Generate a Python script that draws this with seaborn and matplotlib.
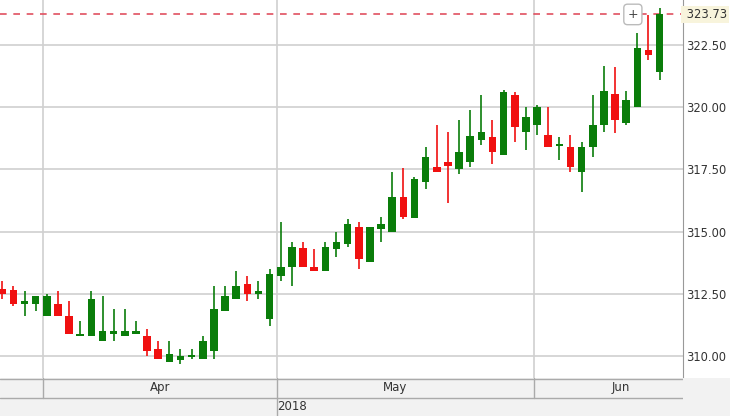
import matplotlib
matplotlib.use("Agg")
import matplotlib.pyplot as plt
import seaborn as sns
import numpy as np
import pandas as pd

opens = [312.7,312.65,312.1,312.1,311.6,312.1,311.6,310.8,310.8,310.6,310.9,310.8,310.9,310.8,310.3,309.75,309.85,309.95,309.9,310.2,
         311.8,312.3,312.9,312.5,311.5,313.2,313.6,314.35,313.6,313.4,314.3,314.5,315.2,313.8,315.1,315.0,316.4,315.55,317.0,317.6,
         317.8,317.5,317.8,318.7,318.8,318.1,320.5,319.0,319.3,318.9,318.45,318.4,317.4,318.4,319.3,320.55,319.35,320.0,322.3,321.4]
highs = [313.0,312.8,312.6,312.4,312.5,312.6,312.2,311.4,312.6,312.4,311.9,311.9,311.4,311.1,310.6,310.6,310.3,310.3,310.8,312.8,
         312.8,313.4,313.2,313.0,313.5,315.4,314.6,314.6,314.3,314.6,315.0,315.5,315.4,315.2,315.6,317.4,317.55,317.2,318.4,319.3,
         319.0,319.5,319.9,320.5,319.5,320.7,320.6,320.0,320.1,320.0,318.8,318.9,318.6,320.5,321.65,321.6,320.65,323.0,323.7,324.0]
lows = [312.3,312.0,311.6,311.8,311.6,311.6,310.9,310.8,310.8,310.6,310.6,310.8,310.9,310.0,309.9,309.75,309.7,309.9,309.9,309.9,
        311.8,312.3,312.2,312.3,311.2,313.0,312.8,313.6,313.4,313.4,314.0,314.4,313.5,313.8,314.6,315.0,315.5,315.55,316.7,317.4,
        316.15,317.3,317.6,318.5,317.7,318.1,318.6,318.3,318.9,318.4,317.9,317.4,316.6,318.0,319.0,318.95,319.3,320.0,321.9,321.1]
closes = [312.5,312.1,312.2,312.4,312.4,311.6,310.9,310.9,312.3,311.0,311.0,311.0,311.0,310.2,309.9,310.1,310.0,310.05,310.6,311.9,
          312.4,312.8,312.5,312.6,313.3,313.6,314.4,313.6,313.4,314.4,314.6,315.3,313.9,315.2,315.3,316.4,315.6,317.1,318.0,317.4,
          317.65,318.2,318.85,319.0,318.2,320.6,319.2,319.6,320.0,318.4,318.5,317.6,318.4,319.3,320.65,319.5,320.3,322.4,322.1,323.73]
last_price = 323.73
y_ticks = [310.0, 312.5, 315.0, 317.5, 320.0, 322.5]
months = ["Apr", "May", "Jun"]
month_start_idx = [4, 25, 48]
month_label_x = [14.2, 35.3, 55.5]
year_label = "2018"

sns.set_style("white")
plt.rcParams['font.family'] = ['DejaVu Sans']

df = pd.DataFrame({"o": opens, "h": highs, "l": lows, "c": closes})
df["i"] = np.arange(len(df))
df["up"] = df["c"] >= df["o"]
GREEN, RED = "#0a7d0a", "#f01010"
df["col"] = np.where(df["up"], GREEN, RED)

W, H = 730, 416
fig = plt.figure(figsize=(7.3, 4.16), dpi=100)
fig.patch.set_facecolor("white")
ax = fig.add_axes([0, 38 / H, 683 / W, 378 / H])
xlim = (-0.2, 61.1)
ax.set_xlim(*xlim)
ax.set_ylim(309.12, 324.31)

for t in y_ticks:
    ax.axhline(t, color="#d0d0d0", lw=1.2, zorder=0)
for m in month_start_idx:
    ax.axvline(m - 0.3, color="#d0d0d0", lw=1.2, zorder=0)

ax.vlines(df["i"], df["l"], df["h"], colors=df["col"], lw=1.2, zorder=2)
body_lo = np.minimum(df["o"], df["c"])
body_h = np.maximum(np.abs(df["c"] - df["o"]), 0.08)
ax.bar(df["i"], body_h, bottom=body_lo, width=0.68, color=df["col"], zorder=3, linewidth=0)

ax.axhline(last_price, color="#e05060", lw=1.2, ls=(0, (4, 4)), zorder=1)

ax.yaxis.tick_right()
ax.set_yticks(y_ticks)
ax.set_yticklabels([f"{t:.2f}" for t in y_ticks], fontsize=8.3, color="#333333")
ax.tick_params(axis="y", length=0, pad=2)
ax.set_xticks([])
for s in ["top", "left", "bottom"]:
    ax.spines[s].set_visible(False)
ax.spines["right"].set_color("#999999")
ax.text(1.0, last_price, f" {last_price:.2f}", transform=ax.get_yaxis_transform(),
        ha="left", va="center", fontsize=8.3, color="#333333",
        bbox=dict(boxstyle="square,pad=0.2", fc="#f8f4dc", ec="none"))
ax.text(56.6, 323.73, "+", ha="center", va="center", fontsize=9, color="#444444",
        bbox=dict(boxstyle="round,pad=0.3", fc="white", ec="#bbbbbb"))

# date strip
ax2 = fig.add_axes([0, 0, 683 / W, 38 / H])
ax2.set_xlim(*xlim)
ax2.set_ylim(0, 38)
ax2.set_facecolor("#f2f2f2")
ax2.axhline(18, color="#aaaaaa", lw=1)
ax2.axhline(37.5, color="#aaaaaa", lw=1)
for k, m in enumerate(month_start_idx):
    ax2.plot([m - 0.3, m - 0.3], [18, 38], color="#aaaaaa", lw=1)
    ax2.text(month_label_x[k], 28, months[k], ha="center", va="center", fontsize=8.5, color="#333333")
ax2.plot([month_start_idx[1] - 0.3] * 2, [0, 18], color="#aaaaaa", lw=1)
ax2.text(month_start_idx[1] + 1.0, 9, year_label, ha="center", va="center", fontsize=8.5, color="#333333")
ax2.set_xticks([]); ax2.set_yticks([])
for s in ax2.spines.values():
    s.set_visible(False)
ax3 = fig.add_axes([683 / W, 0, 47 / W, 38 / H])
ax3.set_facecolor("#f2f2f2"); ax3.set_xticks([]); ax3.set_yticks([])
for s in ax3.spines.values():
    s.set_visible(False)

fig.savefig("out.png", dpi=100)
